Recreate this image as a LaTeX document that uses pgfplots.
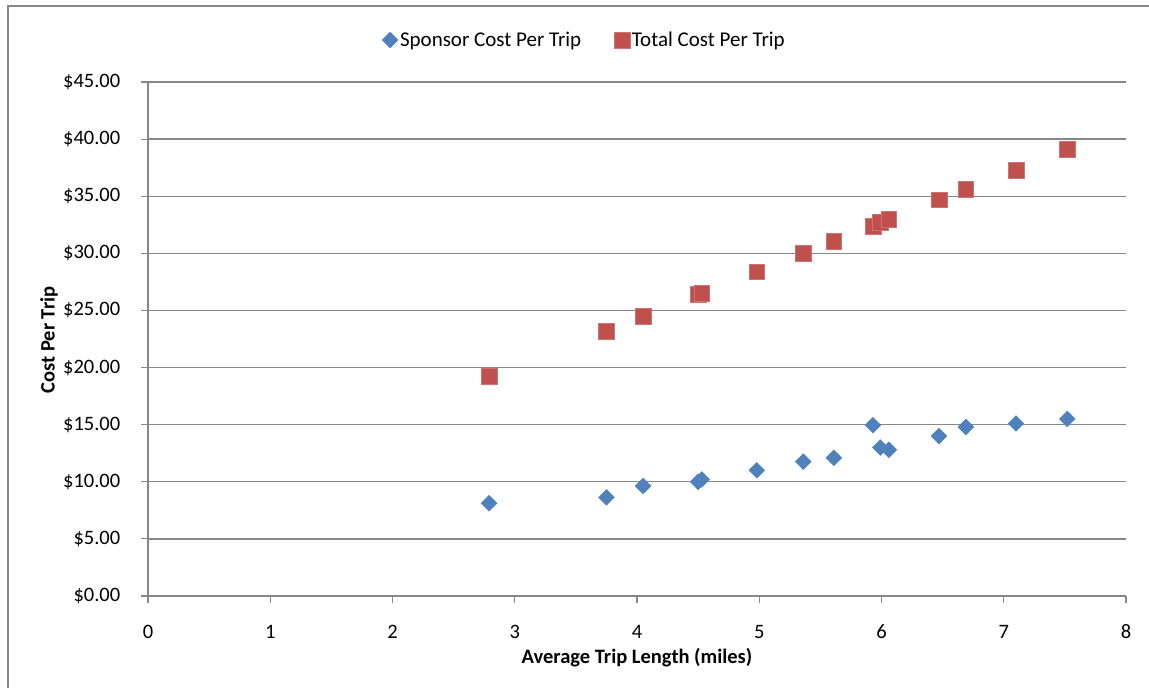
\documentclass[border=0pt]{standalone}
\usepackage{fontspec}
\setmainfont{Carlito}
\usepackage{pgfplots}
\pgfplotsset{compat=1.18}

\definecolor{sponsor}{HTML}{4F81BD}
\definecolor{total}{HTML}{C0504D}
\definecolor{gridgray}{HTML}{878787}

% average trip length (miles) vs cost per trip ($)
\pgfplotstableread{
x     y
2.79  8.12
3.75  8.64
4.05  9.63
4.50  10.00
4.53  10.20
4.98  11.00
5.36  11.76
5.61  12.10
5.93  14.95
5.99  13.00
6.06  12.80
6.47  14.00
6.69  14.80
7.10  15.10
7.52  15.50
}\sponsordata

\pgfplotstableread{
x     y
2.79  19.24
3.75  23.20
4.05  24.50
4.50  26.40
4.53  26.50
4.98  28.40
5.36  30.00
5.61  31.06
5.93  32.40
5.99  32.70
6.06  33.00
6.47  34.70
6.69  35.60
7.10  37.30
7.52  39.10
}\totaldata

\begin{document}
\begin{tikzpicture}[font=\fontsize{20.5bp}{24bp}\selectfont]
\begin{axis}[
    scale only axis,
    width=978bp, height=514bp,
    xmin=0, xmax=8, ymin=0, ymax=45,
    xtick={0,1,...,8},
    ytick={0,5,...,45},
    axis x line*=bottom,
    axis y line*=left,
    axis line style={gridgray, line width=1.3bp, -},
    tick style={gridgray, line width=1.1bp},
    tick align=outside,
    major tick length=6.5bp,
    ymajorgrids,
    grid style={gridgray, line width=1.3bp},
    clip=false,
    /pgf/number format/assume math mode=true,
    yticklabel={\$\pgfmathprintnumber[fixed,fixed zerofill,precision=2]{\tick}},
    yticklabel style={anchor=east, inner sep=0pt, xshift=-21bp},
    xticklabel style={anchor=center, inner sep=0pt, yshift=-29bp},
    xlabel={\bfseries Average Trip Length (miles)},
    ylabel={\bfseries Cost Per Trip},
    xlabel style={at={(axis description cs:0.5,-0.1206)}, anchor=center, inner sep=0pt},
    ylabel style={at={(axis description cs:-0.1012,0.498)}, anchor=center, inner sep=0pt, rotate=0},
    legend style={at={(axis description cs:0.4463,1.0817)}, anchor=center,
        draw=none, fill=none, legend columns=-1, inner sep=0pt,
        font=\fontsize{21bp}{24bp}\selectfont,
        /tikz/every even column/.append style={column sep=31bp}},
    legend cell align=left,
]
\addplot[only marks, mark=square*, mark size=5.6bp,
    mark options={rotate=45, fill=sponsor, draw=sponsor}] table[x=x,y=y] {\sponsordata};
\addlegendentry{Sponsor Cost Per Trip}
\addplot[only marks, mark=square*, mark size=7.8bp,
    mark options={fill=total, draw=total!80!white}] table[x=x,y=y] {\totaldata};
\addlegendentry{Total Cost Per Trip}

\coordinate (bbsw) at (axis description cs:-0.1513,-0.1790);
\coordinate (bbne) at (axis description cs:1.0235,1.1595);
\coordinate (frl) at (axis description cs:-0.1431,-0.1790);
\coordinate (frt) at (axis description cs:1.0235,1.1479);
\end{axis}
\draw[gridgray, line width=1.3bp] (frl) |- (frt);
\pgfresetboundingbox
\path[use as bounding box] (bbsw) rectangle (bbne);
\end{tikzpicture}
\end{document}
